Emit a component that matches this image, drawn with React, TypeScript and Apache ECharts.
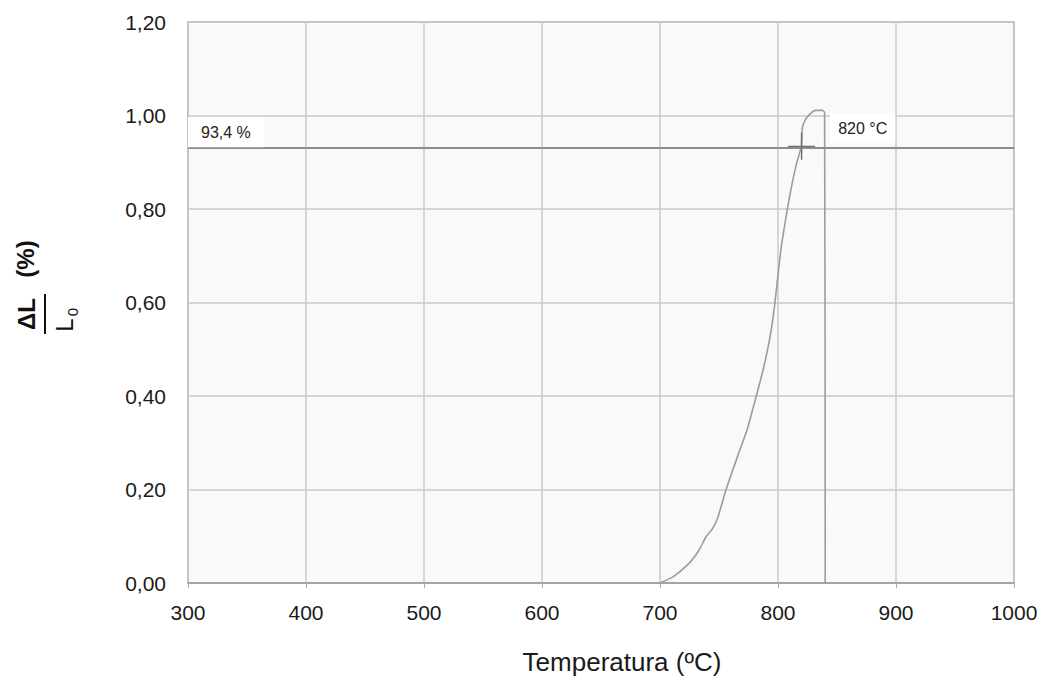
import React, { useEffect, useRef } from "react";
import * as echarts from "echarts";

const xTicks = [300, 400, 500, 600, 700, 800, 900, 1000];
const yTicks = [0, 0.2, 0.4, 0.6, 0.8, 1.0, 1.2];
const temperature = [700, 711, 725, 733, 739, 744, 749, 756, 767, 774, 778, 781.6, 787, 791, 794.5, 797.5, 802.6, 808.1, 812, 815.5, 819.7, 820.6, 823, 826.5, 832, 837.5, 839.5, 840];
const expansion = [0, 0.013, 0.043, 0.07, 0.099, 0.114, 0.14, 0.2, 0.28, 0.329, 0.366, 0.4, 0.452, 0.497, 0.545, 0.602, 0.716, 0.802, 0.855, 0.895, 0.934, 0.974, 0.99, 1.002, 1.011, 1.011, 1.006, 0];
const thresholdValue = 0.934;
const thresholdLabel = "93,4 %";
const pointTemp = 820;
const pointLabel = "820 °C";
const endTemp = 840;

const FONT = "'Liberation Sans', Arial, sans-serif";

export default function App() {
  const ref = useRef<HTMLDivElement>(null);
  useEffect(() => {
    if (!ref.current) return;
    const chart = echarts.init(ref.current, null, { renderer: "svg" });
    const data = temperature.map((t, i) => [t, expansion[i]]);
    const crossPath =
      "path://M13.25,0h1.5v13.25h13.25v1.5h-13.25v13.25h-1.5v-13.25h-13.25v-1.5h13.25z";
    chart.setOption({
      animation: false,
      backgroundColor: "#ffffff",
      textStyle: { fontFamily: FONT },
      grid: {
        left: 188,
        top: 22,
        right: 39,
        bottom: 101,
        show: true,
        backgroundColor: "#f9f9f9",
        borderColor: "#a8a8a8",
        borderWidth: 1.5,
      },
      xAxis: {
        type: "value",
        min: xTicks[0],
        max: xTicks[xTicks.length - 1],
        interval: 100,
        name: "Temperatura (ºC)",
        nameLocation: "middle",
        nameGap: 66,
        nameTextStyle: { fontSize: 26, color: "#1a1a1a", fontFamily: FONT, padding: [0, 0, 0, 42] },
        axisLine: { show: true, lineStyle: { color: "#9a9a9a", width: 1.5 } },
        axisTick: { show: true, length: 5, lineStyle: { color: "#aaaaaa" } },
        axisLabel: {
          fontSize: 21,
          color: "#1a1a1a",
          margin: 19,
          fontFamily: FONT,
          formatter: (v: number) => String(v),
        },
        splitLine: { show: true, lineStyle: { color: "#c8c8c8", width: 1.5 } },
      },
      yAxis: {
        type: "value",
        min: yTicks[0],
        max: yTicks[yTicks.length - 1],
        interval: 0.2,
        axisLine: { show: false },
        axisTick: { show: false },
        axisLabel: {
          fontSize: 21,
          color: "#1a1a1a",
          margin: 22,
          fontFamily: FONT,
          formatter: (v: number) => v.toFixed(2).replace(".", ","),
        },
        splitLine: { show: true, lineStyle: { color: "#c8c8c8", width: 1.5 } },
      },
      series: [
        {
          type: "line",
          data,
          showSymbol: false,
          symbol: "none",
          smooth: 0.2,
          lineStyle: { color: "#9c9c9c", width: 1.6 },
          markLine: {
            silent: true,
            symbol: "none",
            lineStyle: { color: "#8c8c8c", width: 2, type: "solid" },
            label: {
              show: true,
              position: "insideStartTop",
              formatter: thresholdLabel,
              backgroundColor: "#ffffff",
              color: "#222222",
              fontSize: 16,
              fontFamily: FONT,
              padding: [7, 13, 7, 13],
              distance: [0, 1],
            },
            data: [{ yAxis: thresholdValue }],
          },
          markPoint: {
            silent: true,
            data: [
              {
                coord: [pointTemp, thresholdValue],
                symbol: crossPath,
                symbolSize: 27,
                itemStyle: { color: "#6e6e6e" },
                label: { show: false },
              },
              {
                coord: [endTemp, thresholdValue],
                symbol: "circle",
                symbolSize: 0,
                itemStyle: { color: "transparent" },
                label: {
                  show: true,
                  position: "right",
                  distance: 5,
                  offset: [0, -18],
                  formatter: pointLabel,
                  backgroundColor: "#ffffff",
                  color: "#222222",
                  fontSize: 16,
                  fontFamily: FONT,
                  padding: [7, 8, 7, 8],
                },
              },
            ],
          },
        },
      ],
      graphic: [
        {
          type: "text",
          x: 26,
          y: 314,
          rotation: Math.PI / 2,
          style: {
            text: "ΔL",
            fontSize: 24,
            fontWeight: "bold",
            fontFamily: FONT,
            fill: "#111111",
            align: "center",
            verticalAlign: "middle",
          },
        },
        {
          type: "text",
          x: 25,
          y: 259,
          rotation: Math.PI / 2,
          style: {
            text: "(%)",
            fontSize: 24,
            fontWeight: "bold",
            fontFamily: FONT,
            fill: "#111111",
            align: "center",
            verticalAlign: "middle",
          },
        },
        {
          type: "line",
          shape: { x1: 45, y1: 294, x2: 45, y2: 334 },
          style: { stroke: "#111111", lineWidth: 2 },
        },
        {
          type: "text",
          x: 64,
          y: 325,
          rotation: Math.PI / 2,
          style: {
            text: "L",
            fontSize: 24,
            fontFamily: FONT,
            fill: "#111111",
            align: "center",
            verticalAlign: "middle",
          },
        },
        {
          type: "text",
          x: 72,
          y: 312,
          rotation: Math.PI / 2,
          style: {
            text: "0",
            fontSize: 15,
            fontFamily: FONT,
            fill: "#111111",
            align: "center",
            verticalAlign: "middle",
          },
        },
      ],
    });
    return () => chart.dispose();
  }, []);
  return <div ref={ref} style={{ width: 1053, height: 684, margin: -8 }} />;
}
